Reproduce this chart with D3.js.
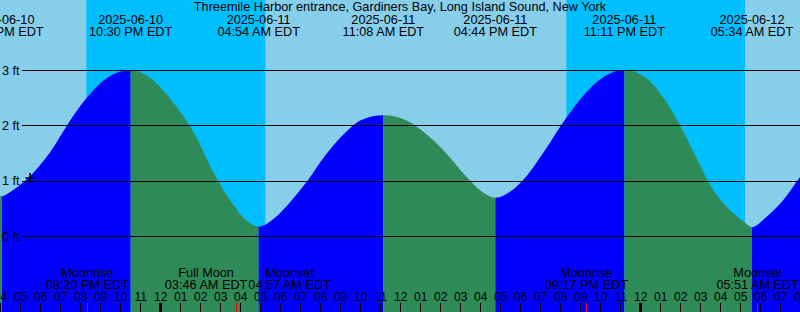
<!DOCTYPE html>
<html><head><meta charset="utf-8">
<script src="https://cdn.jsdelivr.net/npm/d3@7"></script>
<style>
html,body{margin:0;padding:0;background:#87ceeb;}
svg{display:block;}
text{font-family:"Liberation Sans",Arial,sans-serif;fill:#000;}
</style>
</head><body>
<svg id="chart" width="800" height="312"></svg>
<script>
// ---------- data ----------
const title = "Threemile Harbor entrance, Gardiners Bay, Long Island Sound, New York";
const domainStart = "2025-06-10 15:58";
const domainEnd   = "2025-06-12 07:58";

// high / low tide events (local EDT)
const tideEventTimes   = ["2025-06-10 09:50","2025-06-10 16:04","2025-06-10 22:30","2025-06-11 04:54","2025-06-11 11:08","2025-06-11 16:44","2025-06-11 23:11","2025-06-12 05:34","2025-06-12 11:50"];
const tideEventHeights = [2.40, 0.72, 3.00, 0.17, 2.18, 0.69, 3.00, 0.16, 2.70];

// intermediate curve heights
const curveSampleTimes = [
  "2025-06-10 16:28","2025-06-10 16:58","2025-06-10 17:28","2025-06-10 17:58","2025-06-10 18:37","2025-06-10 19:16","2025-06-10 20:16","2025-06-10 21:22",
  "2025-06-10 23:28","2025-06-11 00:43","2025-06-11 01:43","2025-06-11 02:37","2025-06-11 03:28","2025-06-11 04:19",
  "2025-06-11 05:43","2025-06-11 06:34","2025-06-11 07:22","2025-06-11 08:13","2025-06-11 09:13","2025-06-11 10:04",
  "2025-06-11 12:13","2025-06-11 13:13","2025-06-11 14:13","2025-06-11 15:13","2025-06-11 16:04",
  "2025-06-11 17:28","2025-06-11 18:13","2025-06-11 19:13","2025-06-11 20:13","2025-06-11 21:13","2025-06-11 22:13",
  "2025-06-12 00:13","2025-06-12 01:13","2025-06-12 02:13","2025-06-12 02:58","2025-06-12 03:22","2025-06-12 04:13","2025-06-12 05:13",
  "2025-06-12 06:18","2025-06-12 07:08","2025-06-12 07:49"];
const curveSampleHeights = [
  0.79, 0.92, 1.08, 1.28, 1.59, 1.97, 2.48, 2.87,
  2.86, 2.37, 1.83, 1.16, 0.65, 0.27,
  0.33, 0.65, 1.01, 1.45, 1.86, 2.10,
  2.10, 1.86, 1.52, 1.10, 0.80,
  0.80, 1.05, 1.55, 2.10, 2.57, 2.89,
  2.87, 2.46, 1.83, 1.28, 0.99, 0.56, 0.24,
  0.35, 0.65, 0.99];

const nightStarts = ["2025-06-10 20:17","2025-06-11 20:17"];
const nightEnds   = ["2025-06-11 05:14","2025-06-12 05:13"];

const moonEventTimes = ["2025-06-10 20:20","2025-06-11 03:46","2025-06-11 04:57","2025-06-11 21:17","2025-06-12 05:51"];
const moonEventNames = ["Moonrise","Full Moon","Moonset","Moonrise","Moonset"];

const heightTicks = [0, 1, 2, 3];
const markTime = "2025-06-10 17:28";
const markHeight = 1.05;

// ---------- colours ----------
const DAY = "#87ceeb", NIGHT = "#00bfff", RISE = "#0000ff", FALL = "#2e8b57";

// ---------- setup ----------
const W = 800, H = 312;
const parse = d3.utcParse("%Y-%m-%d %H:%M");
const svg = d3.select("#chart");

const x = d3.scaleUtc().domain([parse(domainStart), parse(domainEnd)]).range([0, W]);
const y = d3.scaleLinear().domain([0, 3]).range([236, 70]);

// background
svg.append("rect").attr("x",0).attr("y",0).attr("width",W).attr("height",H).attr("fill",DAY);
svg.append("g").selectAll("rect").data(nightStarts.map((s,i)=>[parse(s), parse(nightEnds[i])]))
  .join("rect")
  .attr("x", d=>x(d[0])).attr("y",0)
  .attr("width", d=>x(d[1])-x(d[0])).attr("height",H)
  .attr("fill",NIGHT);

// tide curve
const events = tideEventTimes.map((t,i)=>({t:parse(t), h:tideEventHeights[i]}));
const samples = curveSampleTimes.map((t,i)=>({t:parse(t), h:curveSampleHeights[i]}));
const pts = events.concat(samples).sort((a,b)=>a.t-b.t);

const area = d3.area().x(d=>x(d.t)).y0(H).y1(d=>y(d.h)).curve(d3.curveMonotoneX);
const defs = svg.append("defs");
const gTide = svg.append("g");
for (let i=0;i<events.length-1;i++){
  const a=events[i], b=events[i+1];
  const id="seg"+i;
  defs.append("clipPath").attr("id",id).append("rect")
    .attr("x",x(a.t)).attr("y",0).attr("width",x(b.t)-x(a.t)).attr("height",H);
  gTide.append("path").datum(pts).attr("d",area)
    .attr("fill", b.h>a.h ? RISE : FALL)
    .attr("clip-path","url(#"+id+")");
}

// grid lines and height labels
const gGrid = svg.append("g");
gGrid.selectAll("line").data(heightTicks).join("line")
  .attr("x1",22).attr("x2",W)
  .attr("y1",d=>Math.round(y(d))+0.5).attr("y2",d=>Math.round(y(d))+0.5)
  .attr("stroke","#000").attr("stroke-width",1);
gGrid.selectAll("text").data(heightTicks).join("text")
  .attr("x",2).attr("y",d=>y(d)+4.5)
  .attr("font-size","12.7px")
  .text(d=>d+" ft");

// mark
const mx = Math.round(x(parse(markTime))), my = Math.round(y(markHeight));
svg.append("line").attr("x1",mx-4.5).attr("x2",mx+4.5).attr("y1",my).attr("y2",my).attr("stroke","#000").attr("stroke-width",1.5);
svg.append("line").attr("x1",mx).attr("x2",mx).attr("y1",my-5).attr("y2",my+5).attr("stroke","#000").attr("stroke-width",1.5);

// title
svg.append("text").attr("x",W/2).attr("y",11).attr("text-anchor","middle")
  .attr("font-size","12.7px").text(title);

// tide event labels at top
const fDate = d3.utcFormat("%Y-%m-%d");
const fTime = d3.utcFormat("%I:%M %p EDT");
const visEvents = events.filter(e=>x(e.t)>-60 && x(e.t)<W+60);
const gTop = svg.append("g").attr("font-size","12.7px").attr("text-anchor","middle");
gTop.selectAll("text.d").data(visEvents).join("text").attr("class","d")
  .attr("x",d=>x(d.t)).attr("y",24).text(d=>fDate(d.t));
gTop.selectAll("text.t").data(visEvents).join("text").attr("class","t")
  .attr("x",d=>x(d.t)).attr("y",36).text(d=>fTime(d.t));

// hour axis
const hours = d3.utcHour.range(d3.utcHour.ceil(x.domain()[0]), d3.utcHour.offset(x.domain()[1], 1));
const gAx = svg.append("g");
gAx.selectAll("line").data(hours).join("line")
  .attr("x1",d=>Math.floor(x(d))+0.5).attr("x2",d=>Math.floor(x(d))+0.5)
  .attr("y1",303).attr("y2",H)
  .attr("stroke","#000")
  .attr("stroke-width",d=>d.getUTCHours()===0?3:1);
gAx.selectAll("text").data(hours).join("text")
  .attr("x",d=>x(d)).attr("y",301).attr("text-anchor","middle")
  .attr("font-size","12px")
  .text(d=>d3.utcFormat("%I")(d));

// moon events
const moons = moonEventTimes.map((t,i)=>({t:parse(t), name:moonEventNames[i]}));
const gMoon = svg.append("g").attr("font-size","12.7px").attr("text-anchor","middle");
gMoon.selectAll("line").data(moons).join("line")
  .attr("x1",d=>Math.floor(x(d.t))+0.5).attr("x2",d=>Math.floor(x(d.t))+0.5)
  .attr("y1",303).attr("y2",H).attr("stroke","#ff0000").attr("stroke-width",1);
const ml = gMoon.selectAll("g.m").data(moons).join("g").attr("class","m");
ml.append("text").attr("class","n").attr("y",277).text(d=>d.name);
ml.append("text").attr("class","tt").attr("y",289).text(d=>fTime(d.t));
// measure and resolve overlaps
ml.each(function(d){
  const g=d3.select(this);
  d.w = Math.max(g.select("text.n").node().getComputedTextLength(), g.select("text.tt").node().getComputedTextLength());
  d.cx = x(d.t);
});
for (let it=0; it<10; it++){
  for (let i=0;i<moons.length-1;i++){
    const a=moons[i], b=moons[i+1];
    const need=(a.w+b.w)/2+1;
    if (b.cx-a.cx<need){
      const mid=(a.cx+b.cx)/2;
      a.cx=mid-need/2; b.cx=mid+need/2;
    }
  }
}
ml.selectAll("text").attr("x",function(){return d3.select(this.parentNode).datum().cx;});
</script>
</body></html>
